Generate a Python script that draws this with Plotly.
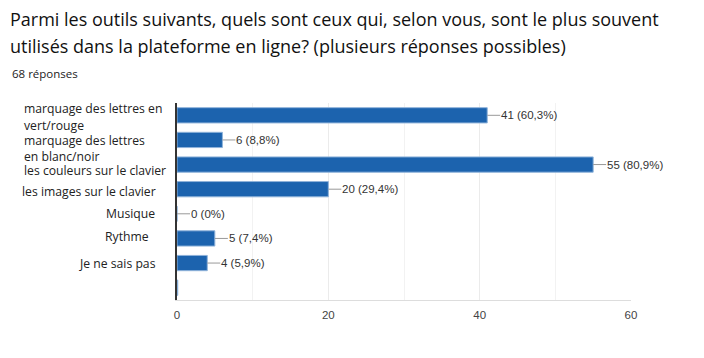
import plotly.graph_objects as go

categories = ["marquage des lettres en vert/rouge", "marquage des lettres en blanc/noir",
              "les couleurs sur le clavier", "les images sur le clavier", "Musique", "Rythme",
              "Je ne sais pas", ""]
values = [41, 6, 55, 20, 0, 5, 4, 0.1]
labels = ["41 (60,3%)", "6 (8,8%)", "55 (80,9%)", "20 (29,4%)", "0 (0%)", "5 (7,4%)", "4 (5,9%)", ""]
x_ticks = [0, 20, 40, 60]

# category label lines as they are wrapped in the picture
label_lines = ["marquage des lettres en", "vert/rouge", "marquage des lettres", "en blanc/noir",
               "les couleurs sur le clavier", "les images sur le clavier", "Musique", "Rythme",
               "Je ne sais pas"]

W, H = 704, 358
ML, MR, MT, MB = 177, 73, 103, 58
PW, PH = W - ML - MR, H - MT - MB


def px(x):
    return (x - ML) / PW


def py(y):
    return (H - MB - y) / PH


# pixel placement of label lines (style): (x, y, anchor)
line_pos = [(22, 108, "left"), (22, 125, "left"), (22, 140, "left"), (22, 156, "left"),
            (22, 170, "left"), (158, 191, "right"), (157, 213, "right"), (151, 236, "right"),
            (158, 263, "right")]

ykeys = [f"c{i}" for i in range(len(categories))]

fig = go.Figure()
fig.add_trace(go.Bar(
    x=values, y=ykeys, orientation="h",
    marker=dict(color="#1c63ae", line=dict(color="#8fb3da", width=1)),
    hovertext=categories, hoverinfo="text",
))

for txt, (lx, ly, anc) in zip(label_lines, line_pos):
    fig.add_annotation(x=px(lx), y=py(ly), xref="paper", yref="paper", text=txt, showarrow=False,
                       xanchor=anc, yanchor="middle",
                       font=dict(family="Open Sans, sans-serif", size=12.2, color="#222"))

for k, v, lab in zip(ykeys, values, labels):
    if not lab:
        continue
    fig.add_annotation(x=v, y=k, xref="x", yref="y", text=lab, showarrow=True,
                       arrowhead=0, arrowwidth=1, arrowcolor="#999", ax=13, ay=0,
                       xanchor="left", standoff=0, startstandoff=0, borderpad=0,
                       font=dict(family="Arial, sans-serif", size=11.5, color="#333"))

fig.add_annotation(x=px(8), y=py(19), xref="paper", yref="paper", showarrow=False,
                   xanchor="left", yanchor="middle", align="left",
                   text="Parmi les outils suivants, quels sont ceux qui, selon vous, sont le plus souvent",
                   font=dict(family="Open Sans, sans-serif", size=18, color="#111"))
fig.add_annotation(x=px(8), y=py(46), xref="paper", yref="paper", showarrow=False,
                   xanchor="left", yanchor="middle", align="left",
                   text="utilisés dans la plateforme en ligne? (plusieurs réponses possibles)",
                   font=dict(family="Open Sans, sans-serif", size=18, color="#111"))
fig.add_annotation(x=px(10), y=py(74), xref="paper", yref="paper", showarrow=False,
                   xanchor="left", yanchor="middle", text="68 réponses",
                   font=dict(family="Open Sans, sans-serif", size=11.5, color="#222"))

fig.update_layout(
    width=W, height=H,
    margin=dict(l=ML, r=MR, t=MT, b=MB),
    paper_bgcolor="white", plot_bgcolor="white",
    showlegend=False, bargap=0.38,
    xaxis=dict(range=[0, 60], tickvals=x_ticks, ticktext=[str(t) for t in x_ticks],
               showgrid=True, gridcolor="#ebebeb", gridwidth=1,
               minor=dict(dtick=10, showgrid=True, gridcolor="#f2f2f2"),
               zeroline=False, showline=True, linecolor="#dddddd",
               tickfont=dict(family="Arial, sans-serif", size=11.5, color="#444"),
               ticks="", ticklabelstandoff=4, fixedrange=True),
    yaxis=dict(categoryorder="array", categoryarray=ykeys, autorange="reversed",
               showticklabels=False, showgrid=False, zeroline=False,
               showline=True, linecolor="#333", linewidth=1.5, ticks="", fixedrange=True),
)

fig.write_html("out.html", config={"displayModeBar": False},
               post_script="document.body.style.margin='0px';")
